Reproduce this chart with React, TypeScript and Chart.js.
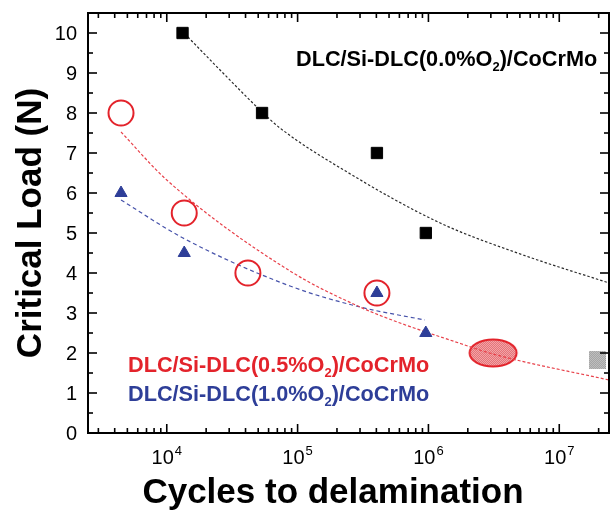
import React, { useEffect, useRef } from 'react';
import { Chart, registerables } from 'chart.js';

Chart.register(...registerables);

const FONT = '"Liberation Sans", Arial, Helvetica, sans-serif';

// ---- axes ----
const xRange = [2500, 2.4e7];
const yRange = [0, 10.5];
const xMajorTicks = [1e4, 1e5, 1e6, 1e7];
const xTickBase = '10';
const xTickExponents = ['4', '5', '6', '7'];
const yMajorTicks = [0, 1, 2, 3, 4, 5, 6, 7, 8, 9, 10];
const yTickLabels = ['0', '1', '2', '3', '4', '5', '6', '7', '8', '9', '10'];
const xTitle = 'Cycles to delamination';
const yTitle = 'Critical Load (N)';

// ---- series labels (main text, subscript, tail) ----
const label00 = ['DLC/Si-DLC(0.0%O', '2', ')/CoCrMo'];
const label05 = ['DLC/Si-DLC(0.5%O', '2', ')/CoCrMo'];
const label10 = ['DLC/Si-DLC(1.0%O', '2', ')/CoCrMo'];

// ---- measured points ----
const cycles00 = [13200, 53500, 404000, 955000];
const load00 = [10, 8, 7, 5];
const cycles05 = [4470, 13600, 41700, 404000];
const load05 = [8, 5.5, 4, 3.5];
const cycles10 = [4470, 13600, 404000, 955000];
const load10 = [6, 4.5, 3.5, 2.5];
const cyclesEllipse = [3.12e6];
const loadEllipse = [2.0];
const cyclesGray = [1.95e7];
const loadGray = [1.825];

// ---- fitted curves ----
const fitCycles00 = [14500, 26900, 53500, 73300, 239000, 1.23e6, 5.3e6, 2.4e7];
const fitLoad00 = [9.9, 9.0, 8.025, 7.625, 6.525, 5.25, 4.45, 3.75];
const fitCycles05 = [4470, 10000, 87500, 300000, 607000, 1.46e6, 3.12e6, 2.4e7];
const fitLoad05 = [7.525, 6.325, 4.05, 3.15, 2.75, 2.325, 1.975, 1.325];
const fitCycles10 = [4470, 13300, 87500, 300000, 940000];
const fitLoad10 = [5.825, 4.875, 3.675, 3.15, 2.825];

const RED = '#e3232b';
const BLUE = '#2e3e98';
const BLACK = '#000000';

const pts = (xs: number[], ys: number[]) => xs.map((x, i) => ({ x, y: ys[i] }));

function fillChecker(g: CanvasRenderingContext2D, w: number, h: number, c1: string, c2: string) {
  g.fillStyle = c1;
  g.fillRect(0, 0, w, h);
  g.fillStyle = c2;
  for (let y = 0; y < h; y++) {
    for (let x = (y % 2); x < w; x += 2) {
      g.fillRect(x, y, 1, 1);
    }
  }
}

function makeEllipse() {
  const c = document.createElement('canvas');
  c.width = 52;
  c.height = 32;
  const g = c.getContext('2d')!;
  g.save();
  g.beginPath();
  g.ellipse(26, 16, 23.5, 13.5, 0, 0, Math.PI * 2);
  g.clip();
  fillChecker(g, 52, 32, '#e66b70', '#f2aeb0');
  g.restore();
  g.beginPath();
  g.ellipse(26, 16, 23.5, 13.5, 0, 0, Math.PI * 2);
  g.lineWidth = 2;
  g.strokeStyle = RED;
  g.stroke();
  return c;
}

function makeGraySquare() {
  const c = document.createElement('canvas');
  c.width = 17;
  c.height = 18;
  const g = c.getContext('2d')!;
  fillChecker(g, 17, 18, '#9a9a9a', '#cacaca');
  return c;
}

function drawRich(ctx: CanvasRenderingContext2D, parts: string[], x: number, y: number, color: string, size: number) {
  ctx.fillStyle = color;
  ctx.textAlign = 'left';
  ctx.textBaseline = 'alphabetic';
  ctx.font = `bold ${size}px ${FONT}`;
  ctx.fillText(parts[0], x, y);
  let cx = x + ctx.measureText(parts[0]).width;
  const sub = Math.round(size * 0.62);
  ctx.font = `bold ${sub}px ${FONT}`;
  ctx.fillText(parts[1], cx, y + 5);
  cx += ctx.measureText(parts[1]).width;
  ctx.font = `bold ${size}px ${FONT}`;
  ctx.fillText(parts[2], cx, y);
}

const axesPlugin = {
  id: 'framedAxes',
  afterDraw(chart: any) {
    const { ctx, chartArea: a, scales } = chart;
    const xs = scales.x;
    const ys = scales.y;
    ctx.save();
    ctx.strokeStyle = '#000';
    ctx.lineWidth = 1.6;
    const seg = (x1: number, y1: number, x2: number, y2: number) => {
      ctx.beginPath();
      ctx.moveTo(x1, y1);
      ctx.lineTo(x2, y2);
      ctx.stroke();
    };
    // y ticks (major + half-step minor), inward on both sides
    yMajorTicks.forEach((v) => {
      const py = ys.getPixelForValue(v);
      seg(a.left, py, a.left + 9, py);
      seg(a.right, py, a.right - 9, py);
      const mv = v + 0.5;
      if (mv <= yRange[1]) {
        const pm = ys.getPixelForValue(mv);
        seg(a.left, pm, a.left + 5, pm);
        seg(a.right, pm, a.right - 5, pm);
      }
    });
    // x ticks (decades + minor 2..9), inward top and bottom
    for (let d = 3; d <= 7; d++) {
      for (let m = 1; m <= 9; m++) {
        const v = m * Math.pow(10, d);
        if (v < xRange[0] || v > xRange[1]) continue;
        const px = xs.getPixelForValue(v);
        const len = m === 1 ? 9 : 5;
        seg(px, a.bottom, px, a.bottom - len);
        seg(px, a.top, px, a.top + len);
      }
    }
    // frame
    ctx.lineWidth = 2;
    ctx.strokeRect(a.left, a.top, a.right - a.left, a.bottom - a.top);

    // y tick labels
    ctx.fillStyle = '#000';
    ctx.font = `20px ${FONT}`;
    ctx.textAlign = 'right';
    ctx.textBaseline = 'alphabetic';
    yMajorTicks.forEach((v, i) => {
      const py = ys.getPixelForValue(v);
      ctx.fillText(yTickLabels[i], a.left - 11, py + 7);
    });
    // x tick labels with superscripts
    xMajorTicks.forEach((v, i) => {
      const px = xs.getPixelForValue(v);
      ctx.font = `20px ${FONT}`;
      const wb = ctx.measureText(xTickBase).width;
      ctx.font = `13px ${FONT}`;
      const we = ctx.measureText(xTickExponents[i]).width;
      const x0 = px - (wb + we + 1) / 2;
      ctx.textAlign = 'left';
      ctx.font = `20px ${FONT}`;
      ctx.fillText(xTickBase, x0, a.bottom + 31);
      ctx.font = `13px ${FONT}`;
      ctx.fillText(xTickExponents[i], x0 + wb + 1, a.bottom + 22);
    });
    // axis titles
    ctx.font = `bold 35px ${FONT}`;
    ctx.textAlign = 'center';
    ctx.fillText(xTitle, 333, 503);
    ctx.save();
    ctx.translate(41, (a.top + a.bottom) / 2);
    ctx.rotate(-Math.PI / 2);
    ctx.fillText(yTitle, 0, 0);
    ctx.restore();

    // series annotations
    drawRich(ctx, label00, 296, 66, BLACK, 21.7);
    drawRich(ctx, label05, 128, 372, RED, 21.7);
    drawRich(ctx, label10, 128, 401, BLUE, 21.7);
    ctx.restore();
  },
};

export default function App() {
  const ref = useRef<HTMLCanvasElement>(null);
  useEffect(() => {
    if (!ref.current) return;
    const fitLine = (xs: number[], ys: number[], color: string, dash: number[]) => ({
      data: pts(xs, ys),
      showLine: true,
      borderColor: color,
      borderWidth: 1.2,
      borderDash: dash,
      pointRadius: 0,
      cubicInterpolationMode: 'monotone',
      fill: false,
      order: 2,
    });
    const chart = new Chart(ref.current, {
      type: 'scatter',
      data: {
        datasets: [
          {
            data: pts(cycles00, load00),
            pointStyle: 'rect',
            pointRadius: 8,
            backgroundColor: BLACK,
            borderColor: BLACK,
            borderWidth: 1,
            order: 1,
          },
          {
            data: pts(cycles05, load05),
            pointStyle: 'circle',
            pointRadius: 12.5,
            backgroundColor: 'rgba(0,0,0,0)',
            borderColor: RED,
            borderWidth: 2,
            order: 1,
          },
          {
            data: pts(cycles10, load10),
            pointStyle: 'triangle',
            pointRadius: 7,
            backgroundColor: BLUE,
            borderColor: BLUE,
            borderWidth: 1,
            order: 1,
          },
          fitLine(fitCycles00, fitLoad00, '#2a2a2a', [2.5, 2]),
          fitLine(fitCycles05, fitLoad05, '#e8414a', [3, 2]),
          fitLine(fitCycles10, fitLoad10, '#4652aa', [4, 3]),
          {
            data: pts(cyclesEllipse, loadEllipse),
            pointStyle: makeEllipse(),
            pointRadius: 10,
            order: 3,
          },
          {
            data: pts(cyclesGray, loadGray),
            pointStyle: makeGraySquare(),
            pointRadius: 8,
            order: 3,
          },
        ] as any,
      },
      options: {
        responsive: false,
        animation: false,
        devicePixelRatio: 1,
        events: [],
        layout: { autoPadding: false, padding: { left: 88, right: 2, top: 13, bottom: 82 } },
        plugins: { legend: { display: false }, tooltip: { enabled: false } },
        scales: {
          x: { type: 'logarithmic', min: xRange[0], max: xRange[1], display: false },
          y: { type: 'linear', min: yRange[0], max: yRange[1], display: false },
        },
      } as any,
      plugins: [axesPlugin],
    });
    return () => chart.destroy();
  }, []);
  return (
    <div style={{ position: 'absolute', left: 0, top: 0, width: 611, height: 515, background: '#fff' }}>
      <canvas ref={ref} width={611} height={515} />
    </div>
  );
}
